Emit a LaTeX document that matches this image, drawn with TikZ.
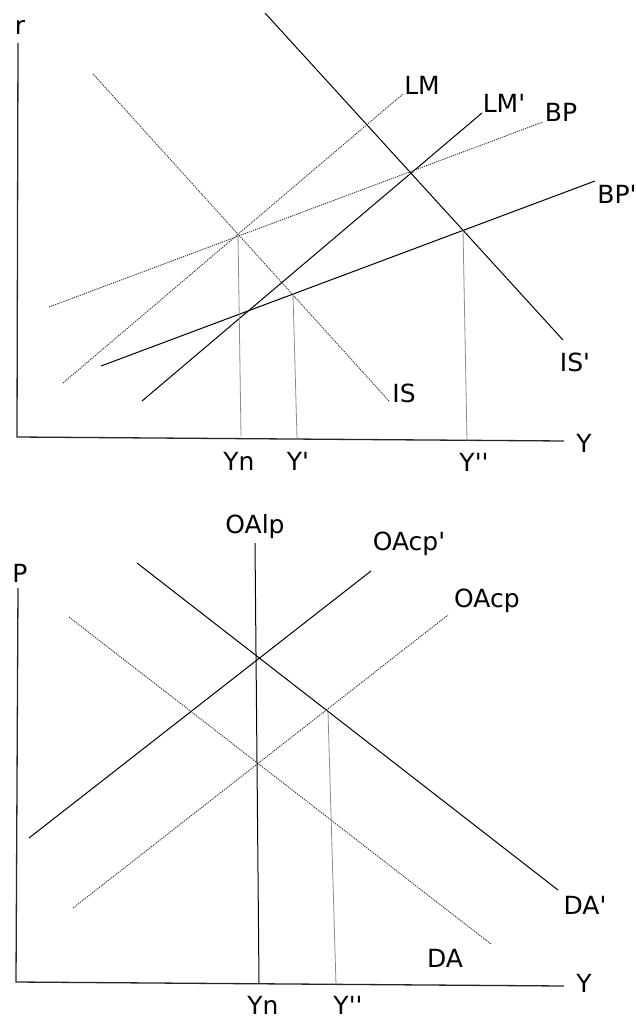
\documentclass[tikz,border=0pt]{standalone}
\usepackage{fontspec}
\setmainfont{DejaVu Sans}
\newcommand{\sq}{\textquotesingle}
\begin{document}
\begin{tikzpicture}[x=1pt,y=-1pt,
  axis/.style={line width=1.3pt,black!85},
  curve/.style={line width=1pt,black},
  dotcurve/.style={line width=0.9pt,black!80,dash pattern=on 1.2pt off 1pt},
  guide/.style={line width=0.8pt,black!45},
  lbl/.style={anchor=base,inner sep=0pt,font=\fontsize{25}{25}\selectfont}]
\useasboundingbox[fill=white] (0,0) rectangle (636,1019);
% ---------- top panel ----------
\coordinate (rtop) at (18,43);
\coordinate (o1) at (17,437);
\coordinate (y1end) at (564,441);
\draw[axis] (rtop) -- (o1) -- (y1end);
\coordinate (isp1) at (265,13);   \coordinate (isp2) at (563,340);
\coordinate (is1) at (93,74);     \coordinate (is2) at (389,401);
\coordinate (lm1) at (63,383);    \coordinate (lm2) at (403,94);
\coordinate (lmp1) at (142,401);  \coordinate (lmp2) at (482,113);
\coordinate (bp1) at (49,307);    \coordinate (bp2) at (543,122);
\coordinate (bpp1) at (101,366);  \coordinate (bpp2) at (595,181);
\draw[curve] (isp1) -- (isp2);
\draw[dotcurve] (is1) -- (is2);
\draw[dotcurve] (lm1) -- (lm2);
\draw[curve] (lmp1) -- (lmp2);
\draw[dotcurve] (bp1) -- (bp2);
\draw[curve] (bpp1) -- (bpp2);
\coordinate (gyn1) at (238,233);  \coordinate (gyn2) at (241,436);
\coordinate (gyp1) at (293,294);  \coordinate (gyp2) at (297,438);
\coordinate (gypp1) at (463,230); \coordinate (gypp2) at (467,441);
\draw[guide] (gyn1) -- (gyn2);
\draw[guide] (gyp1) -- (gyp2);
\draw[guide] (gypp1) -- (gypp2);
\node[lbl] (r) at (20,35) {r};
\node[lbl] (lLM) at (422,95) {LM};
\node[lbl] (lLMp) at (504,113) {LM\sq};
\node[lbl] (lBP) at (561,122) {BP};
\node[lbl] (lBPp) at (617,204) {BP\sq};
\node[lbl] (lIS) at (404,402) {IS};
\node[lbl] (lISp) at (575,371) {IS\sq};
\node[lbl] (lYn1) at (239,470) {Yn};
\node[lbl] (lYp1) at (298,470) {Y\sq};
\node[lbl] (lYpp1) at (474,471) {Y\sq\sq};
\node[lbl] (lY1) at (584,452) {Y};
% ---------- bottom panel ----------
\coordinate (ptop) at (18,588);
\coordinate (o2) at (16,982);
\coordinate (y2end) at (564,986);
\draw[axis] (ptop) -- (o2) -- (y2end);
\coordinate (oal1) at (255,543);  \coordinate (oal2) at (259,983);
\coordinate (ocp1) at (29,838);   \coordinate (ocp2) at (371,571);
\coordinate (oc1) at (73,908);    \coordinate (oc2) at (448,615);
\coordinate (dap1) at (137,563);  \coordinate (dap2) at (558,890);
\coordinate (da1) at (69,617);    \coordinate (da2) at (491,944);
\coordinate (gb1) at (328,712);   \coordinate (gb2) at (336,985);
\draw[curve] (oal1) -- (oal2);
\draw[curve] (ocp1) -- (ocp2);
\draw[dotcurve] (oc1) -- (oc2);
\draw[curve] (dap1) -- (dap2);
\draw[dotcurve] (da1) -- (da2);
\draw[guide] (gb1) -- (gb2);
\node[lbl] (P) at (20,582) {P};
\node[lbl] (lOAlp) at (255,533) {OAlp};
\node[lbl] (lOAcpp) at (409,550) {OAcp\sq};
\node[lbl] (lOAcp) at (487,607) {OAcp};
\node[lbl] (lDAp) at (585,914) {DA\sq};
\node[lbl] (lDA) at (445,967) {DA};
\node[lbl] (lYn2) at (263,1014) {Yn};
\node[lbl] (lYpp2) at (348,1014) {Y\sq\sq};
\node[lbl] (lY2) at (584,992) {Y};
\end{tikzpicture}
\end{document}
